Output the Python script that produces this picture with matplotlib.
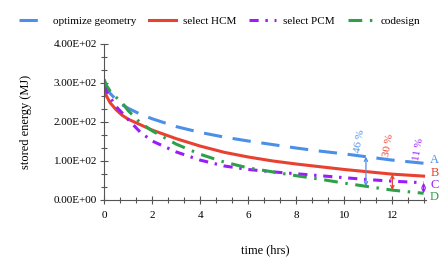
import numpy as np
import matplotlib
matplotlib.use('Agg')
import matplotlib.pyplot as plt

plt.rcParams['font.family'] = ['Liberation Serif', 'DejaVu Serif']

# time (hrs)
t = [0, 0.1, 0.25, 0.5, 0.75, 1, 1.5, 2, 3, 4, 5, 6, 7, 8, 9, 10, 11, 12, 13.3]

geometry = [300, 286, 272, 256, 243, 234, 219, 207, 187, 172, 160, 150, 141, 132, 124, 117, 109, 101, 93]
hcm = [285, 265, 248, 230, 216, 206, 192, 178, 156, 137, 121, 109, 99, 91, 84, 77, 71, 65, 60]
pcm = [293, 278, 262, 238, 222, 205, 173, 150, 122, 101, 86, 77, 71, 66, 61, 56, 51, 47, 43]
codesign = [308, 292, 278, 262, 248, 228, 197, 176, 142, 116, 96, 81, 71, 61, 52, 42, 33, 24, 16]

names = ['optimize geometry', 'select HCM', 'select PCM', 'codesign']
letters = ['A', 'B', 'C', 'D']
percents = ['46 %', '30 %', '11 %']
arrow_x = [10.9, 12.0, 13.3]

colors = ['#4b8fe8', '#e8412f', '#9a1cf8', '#2ea04b']

fig = plt.figure(figsize=(4.47, 2.72), dpi=100)
ax = fig.add_axes([0.233, 0.2665, 0.72, 0.5735])

series = [geometry, hcm, pcm, codesign]
styles = [dict(dashes=(6, 3.5)), dict(linestyle='-'),
          dict(dashes=(3, 2.2, 0.8, 2.2)), dict(dashes=(4.5, 2.5, 0.8, 2.5))]
lines = []
for ys, c, st, nm in zip(series, colors, styles, names):
    ln, = ax.plot(t, ys, color=c, lw=2.2, label=nm, **st)
    lines.append(ln)

# gap arrows down to the codesign curve
for xa, ys, c in zip(arrow_x, series[:3], colors):
    top = np.interp(xa, t, ys)
    bot = np.interp(xa, t, codesign)
    ax.annotate('', xy=(xa, bot), xytext=(xa, top),
                arrowprops=dict(arrowstyle='<->', color=c, lw=0.9,
                                shrinkA=0, shrinkB=0, mutation_scale=6))

ax.text(10.65, 150, percents[0], color=colors[0], rotation=80, fontsize=8,
        ha='center', va='center')
ax.text(11.85, 140, percents[1], color=colors[1], rotation=80, fontsize=8,
        ha='center', va='center')
ax.text(13.1, 130, percents[2], color=colors[2], rotation=80, fontsize=8,
        ha='center', va='center')

for lab, yy, c in zip(letters, [101, 68, 37, 6], colors):
    ax.text(13.75, yy, lab, color=c, fontsize=9, ha='center', va='center',
            clip_on=False)

ax.set_xlim(0, 13.4)
ax.set_ylim(0, 400)
ax.set_xticks(np.arange(0, 13, 2))
ax.set_xticks(np.arange(0, 13.4, 2 / 3), minor=True)
ax.set_yticks(np.arange(0, 401, 100))
ax.set_yticks(np.arange(0, 401, 100 / 3), minor=True)
ax.yaxis.set_major_formatter(plt.FuncFormatter(lambda v, p: '%.2E' % v))

for s in ['top', 'right']:
    ax.spines[s].set_visible(False)
for s in ['left', 'bottom']:
    ax.spines[s].set_color('#555555')
ax.tick_params(which='major', direction='inout', length=6, width=0.8,
               color='#555555', labelsize=8, pad=2)
ax.tick_params(which='minor', direction='inout', length=4, width=0.8,
               color='#555555')
ax.tick_params(axis='x', pad=5)

ax.set_xlabel('time (hrs)', fontsize=9, labelpad=18)
ax.set_ylabel('stored energy (MJ)', fontsize=9, labelpad=16)

fig.legend(handles=lines, loc='center', bbox_to_anchor=(0.492, 0.922), ncol=4,
           frameon=False, fontsize=8, handlelength=2.4, handletextpad=0.6,
           columnspacing=1.2)

fig.savefig('out.png', dpi=100)
